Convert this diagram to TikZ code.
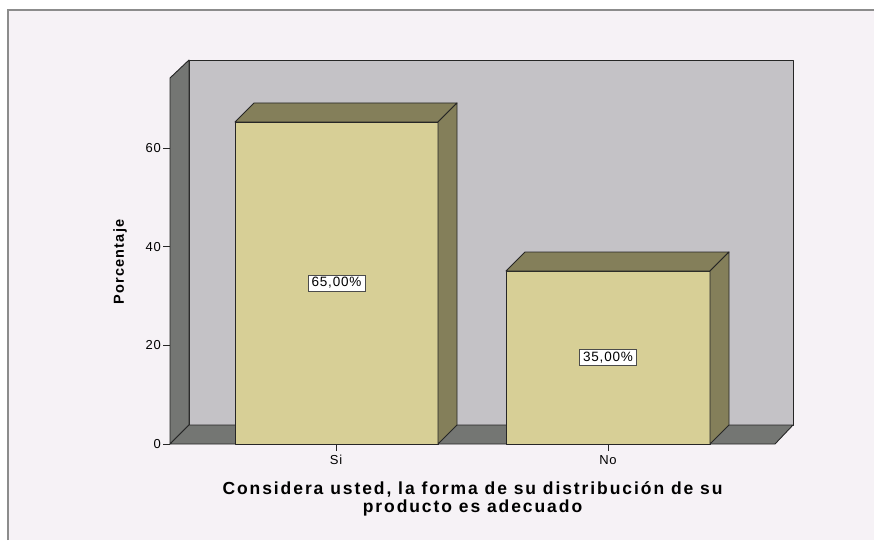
\documentclass[tikz,border=0pt]{standalone}
\usepackage{fontspec}
\setmainfont{Liberation Sans}
\newfontfamily\titlefont[LetterSpace=11]{Liberation Sans}
\newfontfamily\ejefont[LetterSpace=8]{Liberation Sans}
\newfontfamily\valfont[LetterSpace=6]{Liberation Sans}
\definecolor{fondo}{HTML}{F6F2F6}
\definecolor{pared}{HTML}{C4C2C6}
\definecolor{piso}{HTML}{747673}
\definecolor{barfrente}{HTML}{D7CF96}
\definecolor{barlado}{HTML}{847F5A}
\definecolor{marco}{HTML}{8C8C8C}
\tikzset{
  caja/.style={draw=black!85, line width=0.9pt, line join=round},
  etiq/.style={draw=black!70, fill=white, inner xsep=3.5pt, inner ysep=2.5pt, font=\valfont\fontsize{13.5}{14}\selectfont},
  valor/.style={font=\valfont\fontsize{13}{14}\selectfont},
}
\newcommand{\barra}[3]{%
  \filldraw[caja, fill=barfrente] (#1,#3) rectangle (#2,444);
  \filldraw[caja, fill=barlado] (#1,#3) -- (#1+19,#3-19) -- (#2+19,#3-19) -- (#2,#3) -- cycle;
  \filldraw[caja, fill=barlado] (#2,#3) -- (#2+19,#3-19) -- (#2+19,425) -- (#2,444) -- cycle;
}
\begin{document}
\begin{tikzpicture}[x=1pt, y=-1pt]
\useasboundingbox (0,0) rectangle (874,540);
\fill[white] (0,0) rectangle (874,540);
\fill[fondo] (8,10) rectangle (874,540);
\draw[marco, line width=1.5pt] (8,540) -- (8,10) -- (874,10);

\filldraw[caja, fill=pared] (189,60) rectangle (793,425);
\filldraw[caja, fill=piso] (170,444) -- (170,78) -- (189,60) -- (189,425) -- cycle;
\filldraw[caja, fill=piso] (170,444) -- (189,425) -- (793,425) -- (775,444) -- cycle;

\barra{235}{438}{122}
\barra{506}{710}{271}

\foreach \v in {0,20,40,60}{
  \draw[black!85, line width=0.9pt] (163,444-4.93*\v) -- (170,444-4.93*\v);
  \node[valor, anchor=east, inner sep=0pt] (y\v) at (161,444-4.93*\v) {\v};
}

\coordinate (si) at (336,444);
\coordinate (no) at (608,444);
\draw[black!85, line width=0.9pt] (si) -- ++(0,7);
\draw[black!85, line width=0.9pt] (no) -- ++(0,7);
\node[valor] (lsi) at (336,460) {Si};
\node[valor] (lno) at (608,460) {No};

\node[etiq] (psi) at (336.5,283) {65,00\%};
\node[etiq] (pno) at (608,357.5) {35,00\%};

\node[rotate=90, font=\ejefont\fontsize{14.5}{15}\selectfont\bfseries] (ytit) at (120,262) {Porcentaje};
\node[align=center, font=\titlefont\fontsize{17.5}{18}\selectfont\bfseries] (xtit) at (472.5,498.5)
  {Considera usted, la forma de su distribución de su\\producto es adecuado};
\end{tikzpicture}
\end{document}
